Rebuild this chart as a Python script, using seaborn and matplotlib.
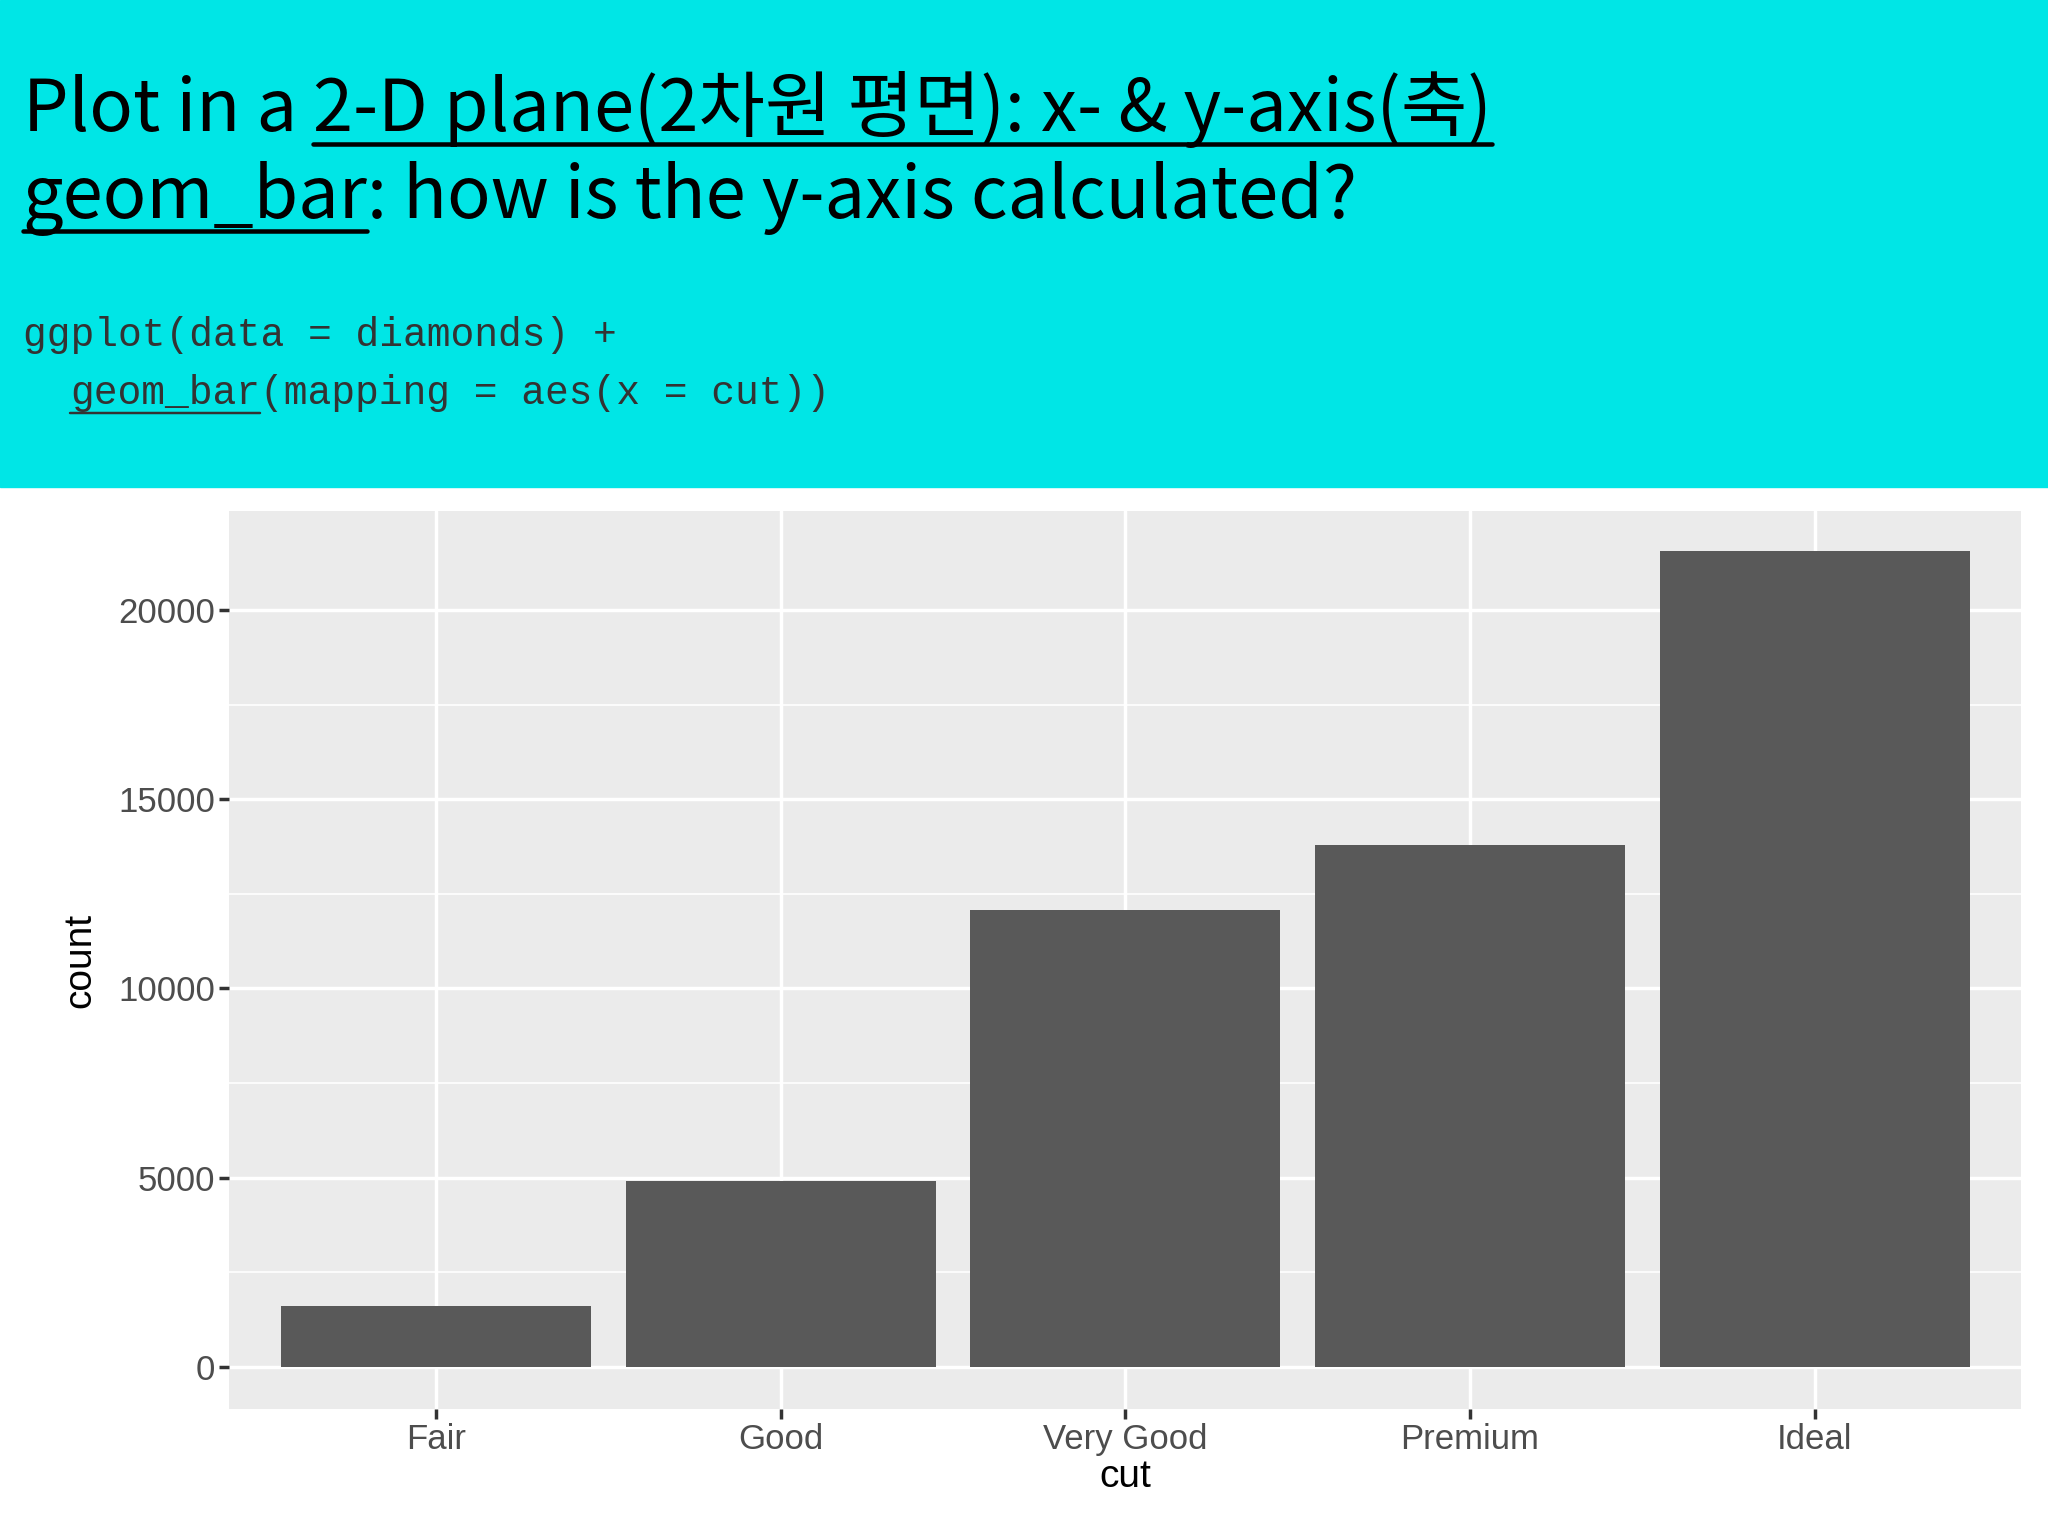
import seaborn as sns
import pandas as pd
import matplotlib.pyplot as plt
from matplotlib.patches import Rectangle

cuts = ['Fair', 'Good', 'Very Good', 'Premium', 'Ideal']
counts = [1610, 4906, 12082, 13791, 21551]
yticks = [0, 5000, 10000, 15000, 20000]

sns.set_theme(style='darkgrid', rc={'axes.facecolor': '#EBEBEB', 'grid.color': 'white'})
plt.rcParams['font.family'] = ['Noto Sans CJK KR', 'DejaVu Sans']

fig = plt.figure(figsize=(20.48, 15.36), dpi=100)
fig.patches.append(Rectangle((0, 0.683), 1, 0.317, transform=fig.transFigure,
                             color='#00E6E6', zorder=0))

renderer = fig.canvas.get_renderer()


def line_of_text(parts, x, y, size, family, color='black'):
    # parts: list of (text, underlined)
    for txt, under in parts:
        t = fig.text(x, y, txt, fontsize=size, family=family, color=color,
                     va='baseline', ha='left')
        bb = t.get_window_extent(renderer).transformed(fig.transFigure.inverted())
        if under:
            uy = y - size * 0.12 / 1536 * 100 / 72
            fig.add_artist(plt.Line2D([x, x + bb.width], [uy - 0.003, uy - 0.003],
                                      transform=fig.transFigure, color=color,
                                      lw=size / 16))
        x += bb.width


sans = ['Noto Sans CJK KR', 'DejaVu Sans']
line_of_text([('Plot in a ', False), ('2-D plane(2차원 평면): x- & y-axis(축)', True)],
             0.011, 0.915, 52, sans)
line_of_text([('geom_bar', True), (': how is the y-axis calculated?', False)],
             0.011, 0.858, 52, sans)
mono = ['Liberation Mono']
line_of_text([('ggplot(data = diamonds) +', False)], 0.011, 0.775, 28.5, mono, '#333333')
line_of_text([('  ', False), ('geom_bar', True), ('(mapping = aes(x = cut))', False)],
             0.011, 0.737, 28.5, mono, '#333333')

ax = fig.add_axes([0.112, 0.083, 0.875, 0.584])
df = pd.DataFrame({'cut': cuts, 'count': counts})
sns.barplot(data=df, x='cut', y='count', color='#595959', saturation=1, width=0.9,
            linewidth=0, ax=ax)
ax.set_xlim(-0.6, 4.6)
ax.set_ylim(-1100, 22600)
ax.set_yticks(yticks)
ax.set_yticks([2500, 7500, 12500, 17500], minor=True)
ax.grid(which='major', color='white', lw=2.5)
ax.grid(which='minor', color='white', lw=1.2)
ax.set_xlabel('cut', fontsize=28, family=['Liberation Sans'], color='black', labelpad=2)
ax.set_ylabel('count', fontsize=28, family=['Liberation Sans'], color='black', labelpad=14)
ax.tick_params(axis='both', labelsize=25, labelcolor='#4D4D4D', length=7, width=2.5,
               color='#333333', left=True, bottom=True)
ax.tick_params(axis='y', which='minor', left=False)
for lab in ax.get_xticklabels() + ax.get_yticklabels():
    lab.set_family('Liberation Sans')
for s in ax.spines.values():
    s.set_visible(False)

fig.savefig('out.png', dpi=100)
